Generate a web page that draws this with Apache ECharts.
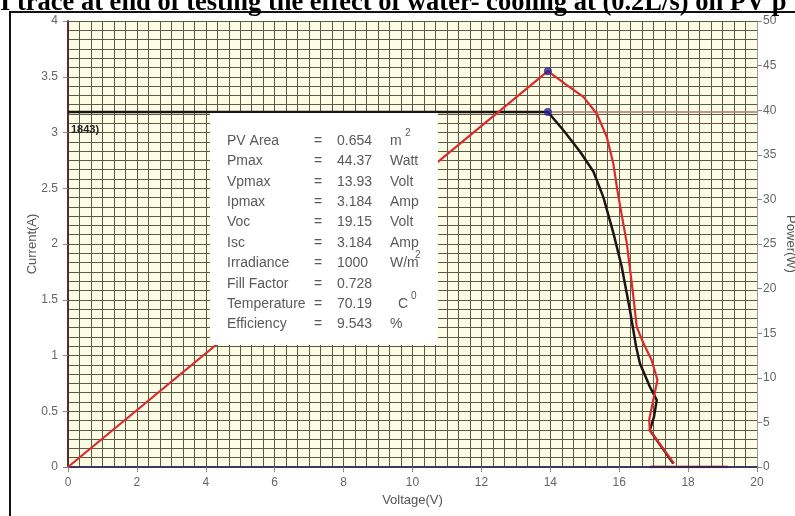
<!DOCTYPE html>
<html>
<head>
<meta charset="utf-8">
<script src="https://cdn.jsdelivr.net/npm/echarts@6/dist/echarts.min.js"></script>
<style>
html,body{margin:0;padding:0;background:#fff;}
#chart{width:795px;height:516px;}
</style>
</head>
<body>
<div id="chart"></div>
<script>
// ---- data ----
const titleText = 'I trace at end of testing the effect of water- cooling at (0.2L/s) on PV p';
const xTicks = [0, 2, 4, 6, 8, 10, 12, 14, 16, 18, 20];

// I-V curve (left axis, A)
const ivVoltage = [0, 13.93, 14.38, 14.86, 15.25, 15.54, 15.83, 16.07, 16.31, 16.49, 16.60, 16.89, 17.09, 17.01, 16.89, 17.57];
const ivCurrent = [3.184, 3.184, 3.02, 2.83, 2.65, 2.42, 2.10, 1.80, 1.41, 1.08, 0.93, 0.72, 0.60, 0.45, 0.33, 0.03];

// continuation of the Ipmax level to the right edge
const ivLevelVoltage = [13.93, 20];
const ivLevelCurrent = [3.184, 3.184];

// P-V curve (right axis, W)
const pvVoltage = [0, 13.93, 14.48, 14.96, 15.35, 15.64, 15.83, 15.96, 16.22, 16.39, 16.51, 16.70, 16.94, 17.11, 16.99, 16.87, 16.89, 17.59];
const pvPower = [0, 44.37, 42.8, 41.5, 39.6, 37.0, 34.0, 30.7, 25.1, 19.8, 15.7, 13.9, 12.0, 9.75, 7.5, 5.3, 4.1, 0.4];

// zero segment beyond the knee up to Voc
const tailVoltage = [16.89, 19.15];
const tailValue = [0, 0];

// maximum power point
const mppVoltage = [13.93];
const mppCurrent = [3.184];
const mppPower = [44.37];

// info box
const infoLabels = ['PV Area', 'Pmax', 'Vpmax', 'Ipmax', 'Voc', 'Isc', 'Irradiance', 'Fill Factor', 'Temperature', 'Efficiency'];
const infoValues = ['0.654', '44.37', '13.93', '3.184', '19.15', '3.184', '1000', '0.728', '70.19', '9.543'];
const infoUnits = ['m', 'Watt', 'Volt', 'Amp', 'Volt', 'Amp', 'W/m', '', 'C', '%'];
const infoSup = ['2', '', '', '', '', '', '2', '', '0', ''];
const stray = '1843)';

// ---- chart ----
const zip = (a, b) => a.map((v, i) => [v, b[i]]);
const chart = echarts.init(document.getElementById('chart'), null, {renderer: 'canvas'});
const gridCol = '#5b5b48';
const font = '"Liberation Sans", Arial, sans-serif';

const graphics = [];
graphics.push({
  type: 'rect', z: 50, shape: {x: 10, y: 12, width: 800, height: 520},
  style: {fill: 'none', stroke: '#111', lineWidth: 2}, silent: true
});
graphics.push({
  type: 'text', z: 50, x: 0, y: -10,
  style: {text: titleText, font: 'bold 26.5px "Liberation Serif", "Times New Roman", serif', fill: '#000', verticalAlign: 'top'}
});
graphics.push({
  type: 'rect', z: 20, shape: {x: 210, y: 113, width: 228, height: 232},
  style: {fill: '#ffffff', stroke: 'none'}
});
graphics.push({
  type: 'text', z: 21, x: 71, y: 124,
  style: {text: stray, font: 'bold 11px ' + font, fill: '#222', verticalAlign: 'top'}
});
const rowY0 = 141, rowStep = 20.4;
infoLabels.forEach((lab, i) => {
  const y = rowY0 + i * rowStep;
  const st = {font: '14px ' + font, fill: '#5a5a5a', verticalAlign: 'middle'};
  graphics.push({type: 'text', z: 21, x: 227, y: y, style: Object.assign({}, st, {text: lab})});
  graphics.push({type: 'text', z: 21, x: 314, y: y, style: Object.assign({}, st, {text: '='})});
  graphics.push({type: 'text', z: 21, x: 337, y: y, style: Object.assign({}, st, {text: infoValues[i]})});
  if (infoUnits[i]) {
    const ux = infoUnits[i] === 'C' ? 398 : 390;
    graphics.push({type: 'text', z: 21, x: ux, y: y, style: Object.assign({}, st, {text: infoUnits[i]})});
  }
  if (infoSup[i]) {
    let sx = 405;
    if (infoUnits[i] === 'W/m') sx = 415;
    if (infoUnits[i] === 'C') sx = 411;
    graphics.push({type: 'text', z: 21, x: sx, y: y - 8, style: {text: infoSup[i], font: '10px ' + font, fill: '#5a5a5a', verticalAlign: 'middle'}});
  }
});

const option = {
  animation: false,
  backgroundColor: '#ffffff',
  grid: {left: 68, right: 38, top: 21, bottom: 49, show: true, backgroundColor: '#fdfde6', borderWidth: 0,
    outerBoundsMode: 'none', containLabel: false},
  xAxis: {
    type: 'value', min: 0, max: 20, interval: 2,
    name: 'Voltage(V)', nameLocation: 'middle', nameGap: 27, nameMoveOverlap: false,
    nameTextStyle: {color: '#555', fontSize: 13, fontFamily: font},
    axisLine: {show: true, onZero: false, lineStyle: {color: '#3c3866', width: 2}},
    axisTick: {show: true, length: 5, lineStyle: {color: '#888'}},
    axisLabel: {color: '#666', fontSize: 12, fontFamily: font, margin: 10,
      formatter: v => (xTicks.indexOf(v) >= 0 ? String(v) : '')},
    splitLine: {show: true, lineStyle: {color: gridCol, width: 1}},
    minorTick: {show: false, splitNumber: 6},
    minorSplitLine: {show: true, lineStyle: {color: gridCol, width: 1}}
  },
  yAxis: [{
    type: 'value', min: 0, max: 4, interval: 0.5, position: 'left',
    name: 'Current(A)', nameLocation: 'middle', nameRotate: 90, nameGap: 29, nameMoveOverlap: false,
    nameTextStyle: {color: '#555', fontSize: 13, fontFamily: font},
    axisLine: {show: true, onZero: false, lineStyle: {color: '#5a2a2a', width: 2}},
    axisTick: {show: true, length: 5, lineStyle: {color: '#888'}},
    axisLabel: {color: '#666', fontSize: 12, fontFamily: font, margin: 10},
    splitLine: {show: true, lineStyle: {color: gridCol, width: 1}},
    minorTick: {show: false, splitNumber: 6},
    minorSplitLine: {show: true, lineStyle: {color: gridCol, width: 1}}
  }, {
    type: 'value', min: 0, max: 50, interval: 5, position: 'right',
    name: 'Power(W)', nameLocation: 'middle', nameRotate: -90, nameGap: 27, nameMoveOverlap: false,
    nameTextStyle: {color: '#555', fontSize: 13, fontFamily: font},
    axisLine: {show: true, onZero: false, lineStyle: {color: '#999', width: 1}},
    axisTick: {show: true, length: 5, lineStyle: {color: '#888'}},
    axisLabel: {color: '#666', fontSize: 12, fontFamily: font, margin: 6},
    splitLine: {show: false}
  }],
  series: [
    {type: 'line', yAxisIndex: 0, data: zip(ivLevelVoltage, ivLevelCurrent), symbol: 'none',
      lineStyle: {color: '#b07070', width: 1.5}, z: 2},
    {type: 'line', yAxisIndex: 0, data: zip(ivVoltage, ivCurrent), symbol: 'none',
      lineStyle: {color: '#1e1414', width: 2.5}, z: 3},
    {type: 'line', yAxisIndex: 1, data: zip(pvVoltage, pvPower), symbol: 'none',
      lineStyle: {color: '#dc2a2a', width: 2.2}, z: 4},
    {type: 'line', yAxisIndex: 0, data: zip(tailVoltage, tailValue), symbol: 'none',
      lineStyle: {color: '#4a1f45', width: 2.5}, z: 5},
    {type: 'scatter', yAxisIndex: 0, data: zip(mppVoltage, mppCurrent), symbolSize: 8,
      itemStyle: {color: '#2b2090'}, z: 6},
    {type: 'scatter', yAxisIndex: 1, data: zip(mppVoltage, mppPower), symbolSize: 8,
      itemStyle: {color: '#2b2090'}, z: 6}
  ],
  graphic: graphics
};
chart.setOption(option);
</script>
</body>
</html>
